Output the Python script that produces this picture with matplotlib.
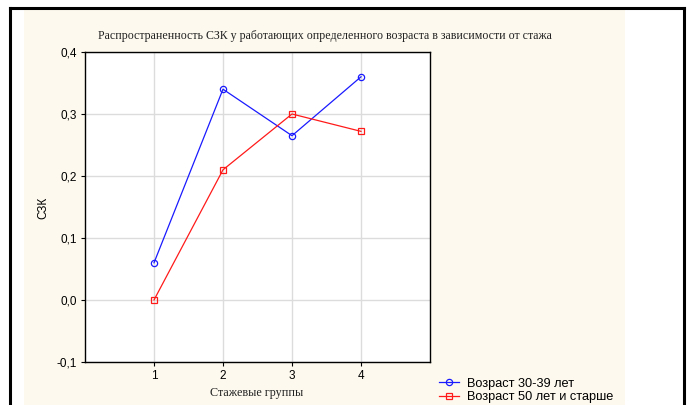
import matplotlib
matplotlib.use("Agg")
import matplotlib.pyplot as plt
from matplotlib.patches import Rectangle

# Data
groups = [1, 2, 3, 4]
age_30_39 = [0.06, 0.34, 0.265, 0.36]
age_50_plus = [0.0, 0.21, 0.30, 0.272]
series_labels = ["Возраст 30-39 лет", "Возраст 50 лет и старше"]
y_ticks = [-0.1, 0.0, 0.1, 0.2, 0.3, 0.4]
y_tick_labels = ["-0,1", "0,0", "0,1", "0,2", "0,3", "0,4"]
title = "Распространенность СЗК у работающих определенного возраста в зависимости от стажа"
x_label = "Стажевые группы"
y_label = "СЗК"

W, H = 687, 405
fig = plt.figure(figsize=(W / 100, H / 100), dpi=100)
fig.patch.set_facecolor("white")

def fx(px):
    return px / W

def fy(py):
    return 1 - py / H

# cream panel behind the chart
fig.patches.append(Rectangle((fx(24), 0), fx(625) - fx(24), fy(10), transform=fig.transFigure,
                             facecolor="#fdf9ee", edgecolor="none", zorder=-5))
# black frame lines (top, left, right)
frame_kw = dict(transform=fig.transFigure, color="black", linewidth=2.2, zorder=5)
fig.add_artist(plt.Line2D([fx(10), fx(684)], [fy(8), fy(8)], **frame_kw))
fig.add_artist(plt.Line2D([fx(10), fx(10)], [fy(8), 0], **frame_kw))
fig.add_artist(plt.Line2D([fx(684), fx(684)], [fy(8), 0], **frame_kw))

ax = fig.add_axes([fx(85), fy(362), fx(430) - fx(85), fy(52) - fy(362)])
ax.set_zorder(2)
ax.set_facecolor("white")
ax.set_xlim(0, 5)
ax.set_ylim(-0.1, 0.4)
ax.set_xticks(groups)
ax.set_xticklabels([str(g) for g in groups], fontfamily="Liberation Sans", fontsize=8.5)
ax.set_yticks(y_ticks)
ax.set_yticklabels(y_tick_labels, fontfamily="Liberation Sans", fontsize=8.5)
ax.grid(True, color="#dcdcdc", linewidth=1.0)
ax.set_axisbelow(True)
for s in ax.spines.values():
    s.set_linewidth(1.0)
    s.set_color("black")
ax.tick_params(length=3, width=0.8, pad=3, color="black")

ax.plot(groups, age_30_39, color="#1a1aff", linewidth=0.9, marker="o", markersize=4.5,
        markerfacecolor="none", markeredgecolor="#1a1aff", markeredgewidth=0.9,
        label=series_labels[0])
ax.plot(groups, age_50_plus, color="#ff1a1a", linewidth=0.9, marker="s", markersize=4.5,
        markerfacecolor="none", markeredgecolor="#ff1a1a", markeredgewidth=0.9,
        label=series_labels[1])

fig.text(fx(325), fy(36), title, ha="center", va="center",
         fontfamily="Liberation Serif", fontsize=8.6, color="#222222")
fig.text(fx(257), fy(393), x_label, ha="center", va="center",
         fontfamily="Liberation Serif", fontsize=8.7, color="#222222")
fig.text(fx(43), fy(208), y_label, ha="center", va="center", rotation=90,
         fontfamily="Liberation Sans", fontsize=8.5)

handles, labels = ax.get_legend_handles_labels()
fig.legend(handles, labels, loc="upper left", bbox_to_anchor=(fx(430), fy(369)),
           frameon=False, prop={"family": "Liberation Sans", "size": 9.2},
           handlelength=1.6, handletextpad=0.6, labelspacing=0.12, borderpad=0.2)

fig.savefig("out.png", dpi=100, facecolor=fig.get_facecolor())
